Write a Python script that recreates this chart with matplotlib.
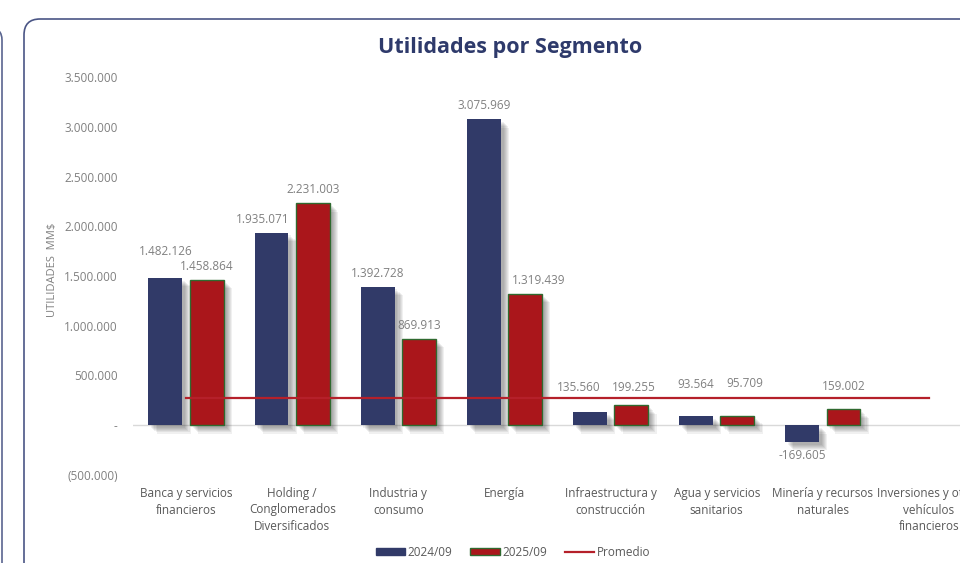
import numpy as np
import matplotlib.pyplot as plt
import matplotlib.patheffects as pe
from matplotlib.patches import FancyBboxPatch, Patch
from matplotlib.lines import Line2D

plt.rcParams['font.family'] = ['Open Sans', 'DejaVu Sans']

categorias = ["Banca y servicios\nfinancieros", "Holding /\nConglomerados\nDiversificados",
              "Industria y\nconsumo", "Energía", "Infraestructura y\nconstrucción",
              "Agua y servicios\nsanitarios", "Minería y recursos\nnaturales",
              "Inversiones y otros\nvehículos\nfinancieros"]
v2024 = [1482126, 1935071, 1392728, 3075969, 135560, 93564, -169605, np.nan]
v2025 = [1458864, 2231003, 869913, 1319439, 199255, 95709, 159002, np.nan]
promedio = 270000

azul = '#313a68'
rojo = '#aa161b'
verde = '#2f6a2f'
gris = '#808080'
navy = '#2e3a6b'

# desplazamientos manuales de etiquetas (serie, categoria) -> (dx, dy) en puntos
ajustes = {(0, 0): (0, 9), (0, 1): (-6, 0), (1, 3): (10, 0),
           (0, 4): (-8, -2), (1, 4): (2, -2), (1, 5): (5, 1), (1, 6): (0, -1)}


def miles(v):
    s = f"{abs(v):,.0f}".replace(",", ".")
    return "-" + s if v < 0 else s


def eje(v, pos):
    if v == 0:
        return "-"
    s = f"{abs(v):,.0f}".replace(",", ".")
    return f"({s})" if v < 0 else s


fig = plt.figure(figsize=(9.6, 5.63), dpi=100)

# paneles de fondo
fig.add_artist(FancyBboxPatch((-5, -1), 5.02, 6.35, boxstyle="round,pad=0,rounding_size=0.12",
                              transform=fig.dpi_scale_trans, fc='white', ec='#5a6590', lw=1.2,
                              zorder=-5))
fig.add_artist(FancyBboxPatch((0.24, -1), 12, 6.44, boxstyle="round,pad=0,rounding_size=0.16",
                              transform=fig.dpi_scale_trans, fc='white', ec='#4a5585', lw=1.2,
                              zorder=-5))

ax = fig.add_axes([133 / 960, 1 - 475 / 563, (982 - 133) / 960, (475 - 77) / 563])
ax.patch.set_alpha(0)

x = np.arange(len(categorias))
w = 0.32
d = 0.195

sombra = [pe.SimplePatchShadow(offset=(o, -o), shadow_rgbFace='k', alpha=0.06)
          for o in (2.0, 2.8, 3.6, 4.4, 5.2, 6.0)] + [pe.Normal()]

b1 = ax.bar(x - d, v2024, w, color=azul, zorder=3)
b2 = ax.bar(x + d, v2025, w, color=rojo, edgecolor=verde, linewidth=1, zorder=3)
for b in list(b1) + list(b2):
    b.set_path_effects(sombra)

ax.plot(x, [promedio] * len(x), color='#b5202a', lw=1.6, zorder=4)

for s, (xs, vals) in enumerate(((x - d, v2024), (x + d, v2025))):
    for i, v in enumerate(vals):
        if np.isnan(v):
            continue
        dx, dy = ajustes.get((s, i), (0, 0))
        if v >= 0:
            base = max(v, promedio)
            ax.annotate(miles(v), (xs[i], base), xytext=(dx, 5 + dy), textcoords='offset points',
                        ha='center', va='bottom', fontsize=8.5, color=gris, zorder=6)
        else:
            ax.annotate(miles(v), (xs[i], v), xytext=(dx, -5 + dy), textcoords='offset points',
                        ha='center', va='top', fontsize=8.5, color=gris, zorder=6)

ax.axhline(0, color='#d9d9d9', lw=1, zorder=1)
ax.set_xlim(-0.5, 7.5)
ax.set_ylim(-500000, 3500000)
ax.set_yticks(np.arange(-500000, 3500001, 500000))
ax.yaxis.set_major_formatter(plt.FuncFormatter(eje))
ax.set_xticks(x)
ax.set_xticklabels(categorias, fontsize=8.5, color='#595959', linespacing=1.3)
ax.tick_params(axis='x', length=0, pad=9)
ax.tick_params(axis='y', length=0, pad=11, labelsize=8.5, labelcolor=gris)
for sp in ax.spines.values():
    sp.set_visible(False)

fig.text(510 / 960, 1 - 47 / 563, "Utilidades por Segmento", ha='center', va='center',
         fontsize=15.5, fontweight='bold', color=navy)
fig.text(52 / 960, 1 - 270 / 563, "UTILIDADES  MM$", rotation=90, ha='center', va='center',
         fontsize=8, color=gris)

handles = [Patch(fc=azul, ec=azul), Patch(fc=rojo, ec=verde),
           Line2D([], [], color='#b5202a', lw=1.6)]
fig.legend(handles, ["2024/09", "2025/09", "Promedio"], loc='center',
           bbox_to_anchor=(513 / 960, 11 / 563), ncol=3, frameon=False, fontsize=8.5,
           handlelength=2.5, handleheight=0.6, handletextpad=0.2, columnspacing=1.5,
           labelcolor='#595959')

fig.savefig('out.png', dpi=100)
